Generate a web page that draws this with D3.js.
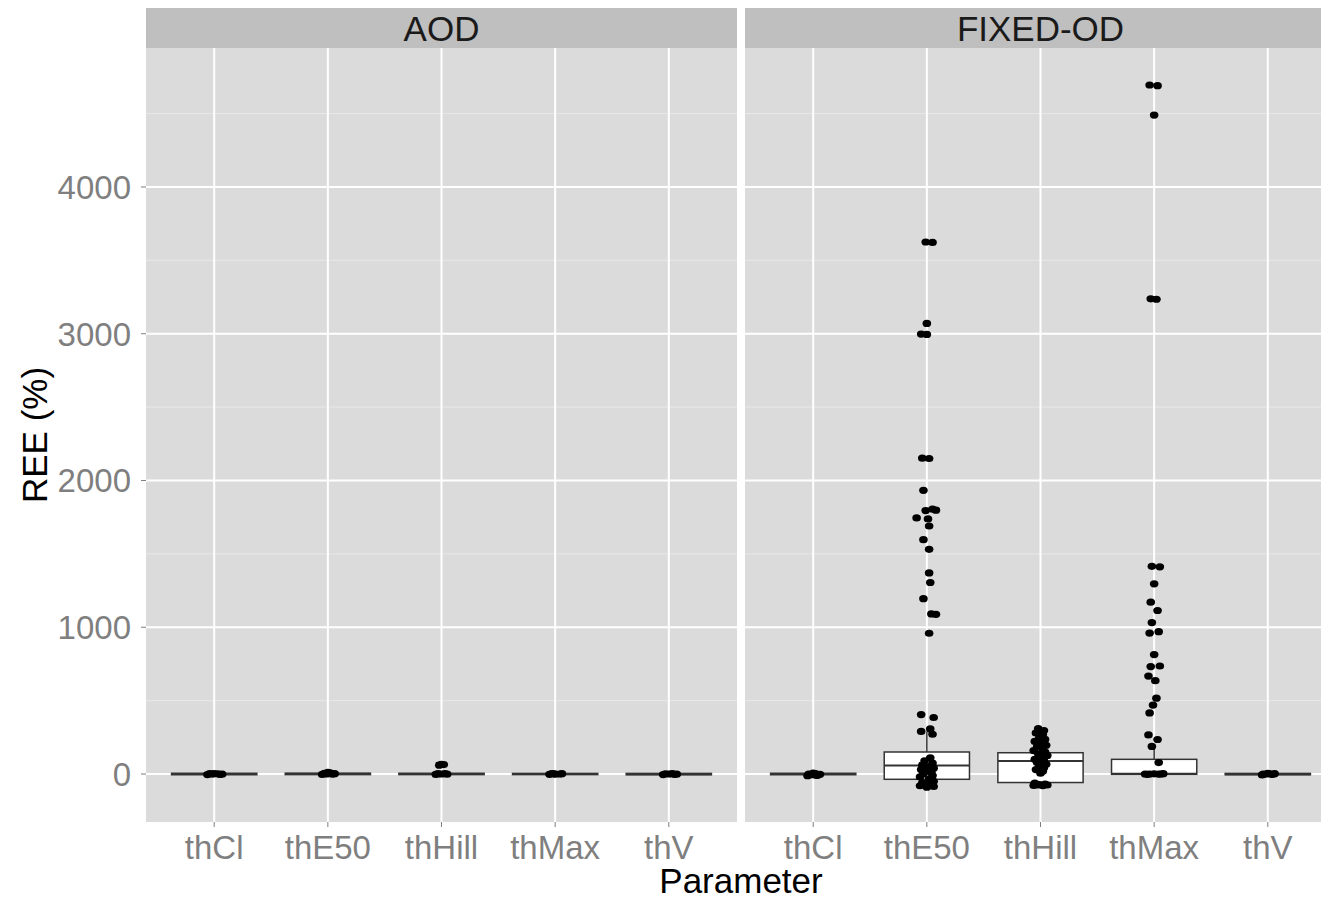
<!DOCTYPE html>
<html>
<head>
<meta charset="utf-8">
<script src="https://cdn.jsdelivr.net/npm/d3@7"></script>
<style>
  body { margin: 0; background: #fff; }
  text { font-family: "Liberation Sans", Arial, sans-serif; }
</style>
</head>
<body>
<svg width="1321" height="900"></svg>
<script>
// facets and categories
const panels = ["AOD", "FIXED-OD"];
const params = ["thCl", "thE50", "thHill", "thMax", "thV"];
const yTicks = [0, 1000, 2000, 3000, 4000];
const yMinor = [500, 1500, 2500, 3500, 4500];
const yDomain = [-327, 4947];

// box stats, one entry per parameter
const aodLow  = [-9, -8, -8, -7, -9];
const aodQ1   = [-5, -4, -4, -4, -5];
const aodMed  = [0, 1, 0, 0, -1];
const aodQ3   = [5, 5, 5, 4, 4];
const aodHigh = [8, 10, 10, 7, 7];

const fixLow  = [-10, -90, -80, -3, -8];
const fixQ1   = [-5, -36, -58, -2, -5];
const fixMed  = [0, 58, 88, 2, -1];
const fixQ3   = [5, 150, 145, 100, 4];
const fixHigh = [8, 290, 316, 190, 7];

// jittered points: [value, jitter in category units]
const aodThCl   = [[-4, -0.06], [-2, 0.05], [0, -0.02], [1, 0.03], [3, -0.04], [-1, 0.07], [2, 0.0]];
const aodThE50  = [[-3, -0.05], [-1, 0.04], [0, -0.01], [2, 0.06], [4, -0.03], [8, 0.02], [12, 0.0]];
const aodThHill = [[-3, -0.05], [-1, 0.05], [0, 0.0], [2, -0.03], [3, 0.03], [60, -0.02], [64, 0.02], [66, 0.0]];
const aodThMax  = [[-2, -0.05], [0, 0.04], [1, -0.01], [2, 0.06], [-1, 0.0], [3, -0.03]];
const aodThV    = [[-4, -0.05], [-2, 0.05], [0, 0.0], [1, -0.03], [2, 0.03], [-1, 0.07]];

const fixThCl = [[-12, -0.05], [-8, 0.04], [-5, -0.01], [-2, 0.06], [0, -0.04], [3, 0.02], [6, 0.0], [-10, 0.03]];
const fixThE50 = [
  [3625, -0.01], [3622, 0.05], [3070, 0.0], [2998, -0.05], [2995, 0.0],
  [2152, -0.04], [2150, 0.02], [1933, -0.03], [1805, 0.05], [1798, 0.08],
  [1795, -0.01], [1745, -0.09], [1738, 0.01], [1690, 0.02], [1597, -0.03],
  [1531, 0.02], [1370, 0.02], [1305, 0.03], [1195, -0.03], [1091, 0.04],
  [1088, 0.08], [959, 0.02], [405, -0.05], [385, 0.06], [307, 0.03],
  [290, -0.05], [271, 0.05],
  [110, 0.03], [90, -0.02], [75, 0.05], [60, -0.04], [50, 0.02], [40, 0.06],
  [30, -0.05], [20, 0.0], [10, 0.04], [0, -0.03], [-10, 0.05], [-20, -0.06],
  [-35, 0.02], [-50, 0.06], [-60, -0.04], [-70, -0.02], [-75, 0.03],
  [-80, -0.06], [-85, 0.06], [-90, 0.0]
];
const fixThHill = [
  [310, -0.02], [296, 0.03], [280, -0.04], [268, 0.02], [250, -0.01],
  [236, 0.04], [222, -0.05], [210, 0.01], [196, 0.05], [185, -0.03],
  [172, 0.02], [160, -0.06], [150, 0.04], [138, -0.02], [126, 0.06],
  [114, 0.0], [100, -0.05], [90, 0.03], [78, -0.03], [66, 0.05],
  [55, -0.01], [42, 0.03], [30, -0.04], [18, 0.02], [6, 0.0],
  [-62, -0.05], [-68, 0.04], [-72, -0.01], [-75, 0.06], [-78, -0.06],
  [-80, 0.02], [-74, -0.03]
];
const fixThMax = [
  [4695, -0.04], [4690, 0.03], [4490, 0.0], [3238, -0.03], [3235, 0.02],
  [1415, -0.02], [1412, 0.05], [1296, 0.0], [1171, -0.03], [1114, 0.03],
  [1032, -0.02], [970, 0.04], [960, -0.04], [814, 0.0], [736, 0.05],
  [732, -0.03], [667, -0.05], [636, 0.01], [517, 0.02], [470, -0.01],
  [416, -0.04], [266, -0.05], [235, 0.03], [188, -0.02], [78, 0.04],
  [0, -0.08], [0, -0.04], [1, 0.0], [-1, 0.04], [2, 0.08], [0, 0.06], [-2, -0.06]
];
const fixThV = [[-6, -0.05], [-3, 0.04], [0, -0.01], [2, 0.06], [-1, -0.04], [1, 0.02], [4, 0.0]];

const boxData = [
  { low: aodLow, q1: aodQ1, med: aodMed, q3: aodQ3, high: aodHigh,
    pts: [aodThCl, aodThE50, aodThHill, aodThMax, aodThV] },
  { low: fixLow, q1: fixQ1, med: fixMed, q3: fixQ3, high: fixHigh,
    pts: [fixThCl, fixThE50, fixThHill, fixThMax, fixThV] }
];

let svg = d3.select("svg");

let marginLeft = 146, marginTop = 48, panelW = 591, panelH = 774, gap = 8, stripH = 40;
let bg = "#dbdbdb", stripBg = "#bfbfbf", tickCol = "#7f7f7f";

let y = d3.scaleLinear().domain(yDomain).range([panelH, 0]);
let x = d3.scalePoint().domain(params).range([0, panelW]).padding(0.6);
let step = x.step();
let boxW = step * 0.75;

panels.forEach((name, i) => {
  let g = svg.append("g")
    .attr("transform", "translate(" + (marginLeft + i * (panelW + gap)) + "," + marginTop + ")");
  let d = boxData[i];

  g.append("rect")
    .attr("width", panelW).attr("height", panelH)
    .attr("fill", bg);

  // minor grid
  g.selectAll(".minor").data(yMinor).enter().append("line")
    .attr("x1", 0).attr("x2", panelW)
    .attr("y1", v => y(v)).attr("y2", v => y(v))
    .attr("stroke", "#e8e8e8").attr("stroke-width", 1);

  // major grid
  g.selectAll(".hmajor").data(yTicks).enter().append("line")
    .attr("x1", 0).attr("x2", panelW)
    .attr("y1", v => y(v)).attr("y2", v => y(v))
    .attr("stroke", "#fff").attr("stroke-width", 2);
  g.selectAll(".vmajor").data(params).enter().append("line")
    .attr("x1", c => x(c)).attr("x2", c => x(c))
    .attr("y1", 0).attr("y2", panelH)
    .attr("stroke", "#fff").attr("stroke-width", 2);

  // strip
  g.append("rect")
    .attr("y", -stripH).attr("width", panelW).attr("height", stripH)
    .attr("fill", stripBg);
  g.append("text")
    .attr("x", panelW / 2).attr("y", -stripH / 2)
    .attr("dy", "0.36em")
    .attr("text-anchor", "middle")
    .style("font-size", "35px")
    .attr("fill", "#1a1a1a")
    .text(name);

  // boxes
  params.forEach((c, j) => {
    let cx = x(c);
    let bx = g.append("g").attr("stroke", "#333").attr("stroke-width", 1.5);
    bx.append("line")
      .attr("x1", cx).attr("x2", cx)
      .attr("y1", y(d.q3[j])).attr("y2", y(d.high[j]));
    bx.append("line")
      .attr("x1", cx).attr("x2", cx)
      .attr("y1", y(d.q1[j])).attr("y2", y(d.low[j]));
    bx.append("rect")
      .attr("x", cx - boxW / 2).attr("width", boxW)
      .attr("y", y(d.q3[j])).attr("height", y(d.q1[j]) - y(d.q3[j]))
      .attr("fill", "#fff");
    bx.append("line")
      .attr("x1", cx - boxW / 2).attr("x2", cx + boxW / 2)
      .attr("y1", y(d.med[j])).attr("y2", y(d.med[j]))
      .attr("stroke-width", 2);

    // points look slightly wider than tall in the reference
    g.selectAll(".pt" + j).data(d.pts[j]).enter().append("ellipse")
      .attr("cx", p => cx + p[1] * step)
      .attr("cy", p => y(p[0]))
      .attr("rx", 4.3)
      .attr("ry", 3.6)
      .attr("fill", "#000");
  });

  // x ticks + labels
  g.selectAll(".xt").data(params).enter().append("line")
    .attr("x1", c => x(c)).attr("x2", c => x(c))
    .attr("y1", panelH).attr("y2", panelH + 5)
    .attr("stroke", tickCol).attr("stroke-width", 1);
  g.selectAll(".xl").data(params).enter().append("text")
    .attr("x", c => x(c)).attr("y", panelH + 37)
    .attr("text-anchor", "middle")
    .style("font-size", "33px")
    .attr("fill", tickCol)
    .text(c => c);
});

// y axis
let ya = svg.append("g").attr("transform", "translate(" + marginLeft + "," + marginTop + ")");
ya.selectAll(".yt").data(yTicks).enter().append("line")
  .attr("x1", -5).attr("x2", 0)
  .attr("y1", v => y(v)).attr("y2", v => y(v))
  .attr("stroke", tickCol).attr("stroke-width", 1);
ya.selectAll(".yl").data(yTicks).enter().append("text")
  .attr("x", -15).attr("y", v => y(v))
  .attr("dy", "0.36em")
  .attr("text-anchor", "end")
  .style("font-size", "33px")
  .attr("fill", tickCol)
  .text(v => v);

// axis titles
svg.append("text")
  .attr("x", marginLeft + (2 * panelW + gap) / 2).attr("y", 893)
  .attr("text-anchor", "middle")
  .style("font-size", "35px")
  .text("Parameter");
svg.append("text")
  .attr("transform", "translate(47," + (marginTop + panelH / 2) + ") rotate(-90)")
  .attr("text-anchor", "middle")
  .style("font-size", "35px")
  .text("REE (%)");
</script>
</body>
</html>
